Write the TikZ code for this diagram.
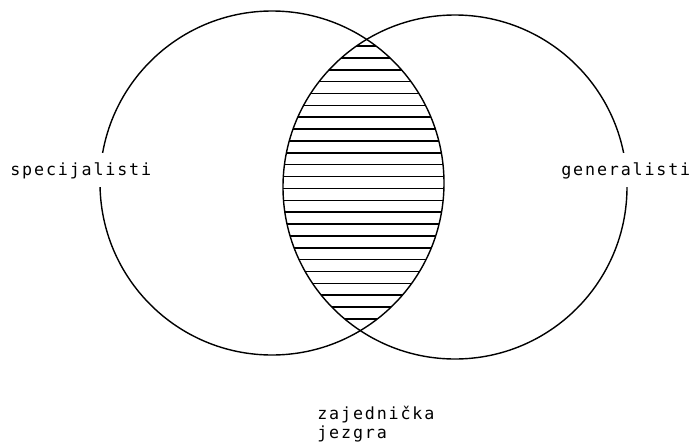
\documentclass[tikz,border=0pt]{standalone}
\usepackage{fontspec}
\newfontfamily\plotfont[LetterSpace=11]{DejaVu Sans Mono}

\begin{document}
\begin{tikzpicture}[
    tag/.style={font=\plotfont\fontsize{9.5}{11}\selectfont, inner sep=0pt},
    cut/.style={tag, fill=white, minimum height=.68cm}
]
    \useasboundingbox (0,0) rectangle (13.82,8.82);

    \coordinate (s) at (5.44,5.16);
    \coordinate (g) at (9.10,5.08);

    % zajednicka jezgra (hatched)
    \begin{scope}
        \clip (s) circle (3.44);
        \clip (g) circle (3.44);
        \foreach \i in {0,...,23}
            \draw [line width=.9pt] (5,2.44+\i*.2374) -- (10,2.44+\i*.2374);
    \end{scope}

    \draw [line width=.8pt] (s) circle (3.44);
    \draw [line width=.8pt] (g) circle (3.44);

    \node [cut, anchor=base west] (spec) at (0.2,5.32) {specijalisti};
    \node [cut, anchor=base west] (gen) at (11.22,5.32) {generalisti};

    \node [tag, anchor=base west] (core) at (6.34,0.44) {zajednička};
    \node [tag, anchor=base west] (core2) at (6.34,0.06) {jezgra};
\end{tikzpicture}
\end{document}
